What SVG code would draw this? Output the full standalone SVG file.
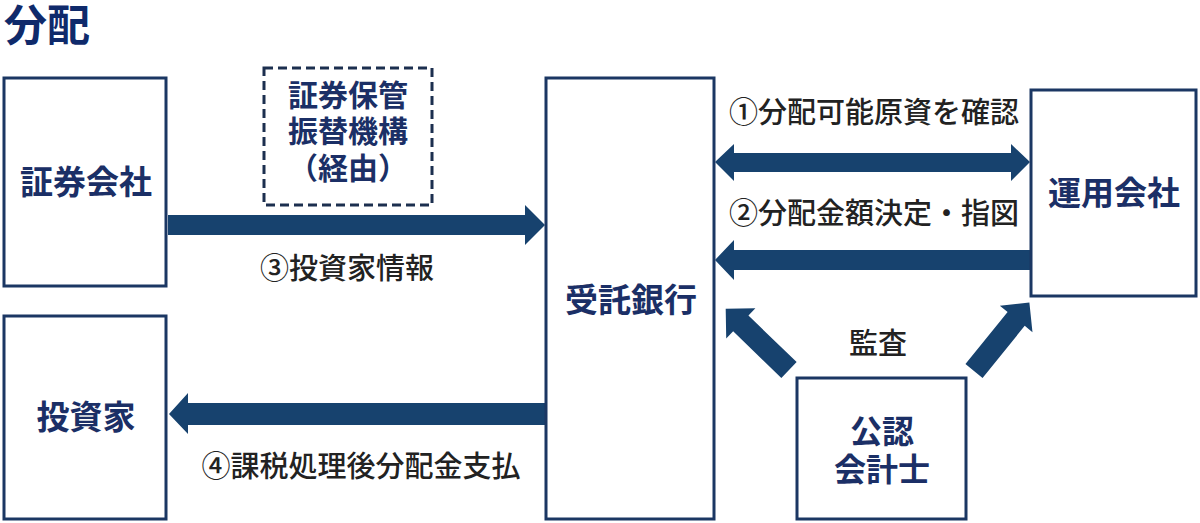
<svg xmlns="http://www.w3.org/2000/svg" width="1200" height="523" viewBox="0 0 1200 523">
<style>
.box{fill:#fff;stroke:#1b3763;stroke-width:3}
.dash{fill:none;stroke:#1c2f4f;stroke-width:3;stroke-dasharray:9 5}
.bt{font-family:"Noto Sans CJK JP","Noto Sans",sans-serif;font-weight:700;font-size:33px;fill:#1b2f66;text-anchor:middle}
.st{font-size:30px}
.kt{font-size:32px}
.lt{font-family:"Noto Sans CJK JP","Noto Sans",sans-serif;font-weight:500;font-size:29px;fill:#222;text-anchor:middle}
.arr{fill:#17426e}
</style>
<rect width="1200" height="523" fill="#fff"/>
<text x="4" y="41" font-family="Noto Sans CJK JP,sans-serif" font-weight="700" font-size="43" fill="#0f2a6b">分配</text>
<g id="connectors">
<polygon class="arr" points="168,215 525,215 525,205 545,225 525,245 525,235 168,235"/>
<polygon class="arr" points="715,162 734,144 734,153 1011,153 1011,144 1030,162 1011,181 1011,172 734,172 734,181"/>
<polygon class="arr" points="1031,250 734,250 734,240 715,260 734,280 734,270 1031,270"/>
<polygon class="arr" points="546,403 188,403 188,393 169,414 188,434 188,425 546,425"/>
<g transform="translate(789,370) rotate(-136)"><polygon class="arr" points="0,-11 67,-11 67,-21 88,0 67,21 67,11 0,11"/></g>
<g transform="translate(974,371) rotate(-51)"><polygon class="arr" points="0,-11 67,-11 67,-21 88,0 67,21 67,11 0,11"/></g>
</g>
<g id="shoken"><rect class="box" x="4" y="78" width="162" height="208"/><text class="bt" x="86" y="194">証券会社</text></g>
<g id="toshika"><rect class="box" x="4" y="316" width="162" height="203"/><text class="bt" x="86" y="429">投資家</text></g>
<g id="jutaku"><rect class="box" x="546" y="78" width="168" height="441"/><text class="bt" x="631" y="312">受託銀行</text></g>
<g id="unyo"><rect class="box" x="1031" y="90" width="165" height="206"/><text class="bt" x="1114" y="205">運用会社</text></g>
<g id="kaikeishi"><rect class="box" x="797" y="378" width="169" height="141"/><text class="bt kt" x="882" y="443">公認</text><text class="bt kt" x="882" y="481">会計士</text></g>
<g id="hofuri"><rect class="dash" x="264" y="68" width="168" height="137"/><text class="bt st" x="348" y="106">証券保管</text><text class="bt st" x="348" y="142">振替機構</text><text class="bt st" x="348" y="179">（経由）</text></g>
<g id="labels">
<text class="lt" x="874" y="123">①分配可能原資を確認</text>
<text class="lt" x="874" y="224">②分配金額決定・指図</text>
<text class="lt" x="347" y="279">③投資家情報</text>
<text class="lt" x="361" y="477">④課税処理後分配金支払</text>
<text class="lt" x="878" y="354">監査</text>
</g>
</svg>
